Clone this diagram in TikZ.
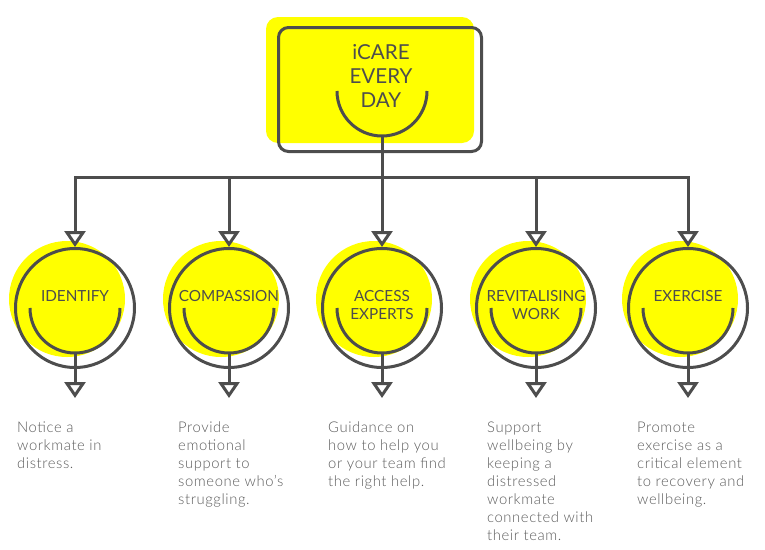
\documentclass[tikz,border=0pt]{standalone}
\usepackage{fontspec}
\setmainfont{Lato}
\newfontfamily\lightfont[LetterSpace=4]{Lato Light}
\usetikzlibrary{positioning, arrows.meta}
\definecolor{icyellow}{HTML}{FFFF00}
\definecolor{icgrey}{HTML}{4D4D4D}
\definecolor{ictext}{HTML}{5C5C5C}

\begin{document}
\begin{tikzpicture}[x=1pt, y=-1pt,
  wire/.style={draw=icgrey, line width=3pt},
  drop/.style={-{Triangle[open, fill=white, length=16pt, width=21pt]}},
  blob/.style={circle, fill=icyellow, minimum size=116pt, inner sep=0pt},
  ring/.style={circle, draw=icgrey, line width=3pt, minimum size=119pt, inner sep=0pt},
  lbl/.style={font=\fontsize{15.3}{18}\selectfont, text=icgrey, align=center, anchor=north, inner sep=0pt},
  desc/.style={font=\lightfont\fontsize{14.8}{17.9}\selectfont, text=ictext, align=left, anchor=north west, inner sep=0pt}]
\useasboundingbox (0,0) rectangle (765,549);

% title box
\node[fill=icyellow, rounded corners=12pt, minimum width=208pt, minimum height=126pt] (topb) at (370,80) {};
\node[draw=icgrey, line width=3pt, rounded corners=10pt, minimum width=203pt, minimum height=124pt, inner sep=0pt] (top) at (380,89.5) {};
\node[lbl, font=\fontsize{20.6}{24}\selectfont] (ttl) at (381,44) {iCARE\\EVERY\\DAY};
\coordinate (tsm) at (382,91);
\draw[wire] ([xshift=-45pt]tsm) arc (180:0:45);
\coordinate (hub) at (382,177);
\draw[wire] ([yshift=-45pt]tsm) -- (hub);

% identify
\node[blob] (idb) at (67,299) {};
\node[ring] (id) at (75,308) {};
\node[lbl] (idl) at (75,290) {IDENTIFY};
\draw[wire] ([xshift=-45pt]id.center) arc (180:0:45);
\coordinate (ido) at ([yshift=-29pt]id.south);
\draw[wire, drop] ([yshift=-45pt]id.center) -- (ido);
\draw[wire, drop] (hub) -| (id.north);

% compassion
\node[blob] (cpb) at (221,299) {};
\node[ring] (cp) at (229,308) {};
\node[lbl] (cpl) at (229,290) {COMPASSION};
\draw[wire] ([xshift=-45pt]cp.center) arc (180:0:45);
\coordinate (cpo) at ([yshift=-29pt]cp.south);
\draw[wire, drop] ([yshift=-45pt]cp.center) -- (cpo);
\draw[wire, drop] (hub) -| (cp.north);

% access experts
\node[blob] (axb) at (374,299) {};
\node[ring] (ax) at (382,308) {};
\node[lbl] (axl) at (382,290) {ACCESS\\EXPERTS};
\draw[wire] ([xshift=-45pt]ax.center) arc (180:0:45);
\coordinate (axo) at ([yshift=-29pt]ax.south);
\draw[wire, drop] ([yshift=-45pt]ax.center) -- (axo);
\draw[wire, drop] (hub) -- (ax.north);

% revitalising work
\node[blob] (rwb) at (528,299) {};
\node[ring] (rw) at (536,308) {};
\node[lbl] (rwl) at (536,290) {REVITALISING\\WORK};
\draw[wire] ([xshift=-45pt]rw.center) arc (180:0:45);
\coordinate (rwo) at ([yshift=-29pt]rw.south);
\draw[wire, drop] ([yshift=-45pt]rw.center) -- (rwo);
\draw[wire, drop] (hub) -| (rw.north);

% exercise
\node[blob] (exb) at (680,299) {};
\node[ring] (ex) at (688,308) {};
\node[lbl] (exl) at (688,290) {EXERCISE};
\draw[wire] ([xshift=-45pt]ex.center) arc (180:0:45);
\coordinate (exo) at ([yshift=-29pt]ex.south);
\draw[wire, drop] ([yshift=-45pt]ex.center) -- (exo);
\draw[wire, drop] (hub) -| (ex.north);

% descriptions
\node[desc] (idd) at (17,422) {Notice a\\workmate in\\distress.};
\node[desc] (cpd) at (178,422) {Provide\\emotional\\support to\\someone who’s\\struggling.};
\node[desc] (axd) at (328,422) {Guidance on\\how to help you\\or your team find\\the right help.};
\node[desc] (rwd) at (487,422) {Support\\wellbeing by\\keeping a\\distressed\\workmate\\connected with\\their team.};
\node[desc] (exd) at (637,422) {Promote\\exercise as a\\critical element\\to recovery and\\wellbeing.};
\end{tikzpicture}
\end{document}
